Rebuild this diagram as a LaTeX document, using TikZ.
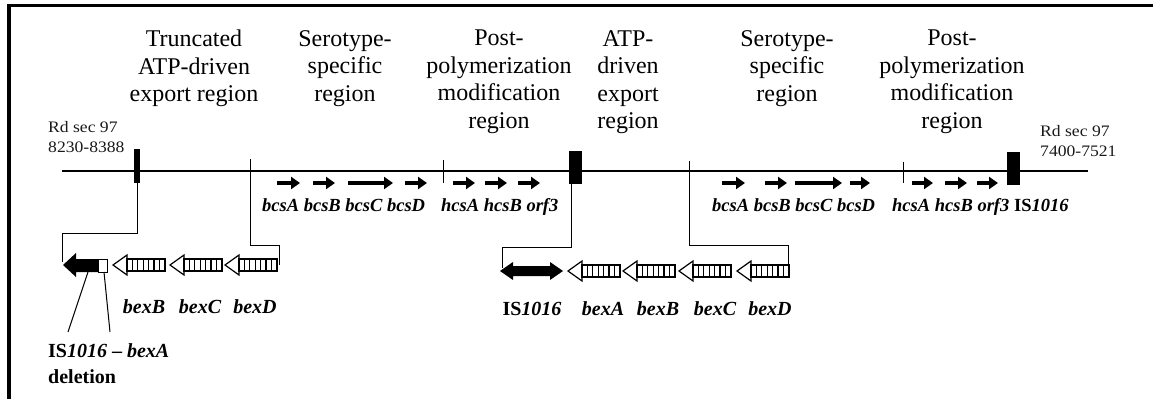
\documentclass[tikz,border=0pt]{standalone}
\usepackage{fontspec}
\setmainfont{Liberation Serif}
\newfontfamily\rdfont[FakeStretch=1.1]{Liberation Serif}
\usetikzlibrary{arrows.meta}
\newcommand\hatcharr[2]{%
  \draw[line width=1.2pt,fill=white] (#1,#2) -- ++(14,-10) -- ++(0,20) -- cycle;
  \draw[line width=1.2pt] (#1+14,#2-6) rectangle (#1+52,#2+6);
  \foreach \k in {1,...,6} \draw[line width=1.1pt] (#1+14+\k*5.4,#2-6) -- ++(0,12);
}
\begin{document}
\begin{tikzpicture}[x=1pt,y=-1pt,
  hdr/.style={align=center,font=\fontsize{24}{27.5}\selectfont,inner sep=0,anchor=north},
  rd/.style={align=left,font=\rdfont\fontsize{16}{20.5}\selectfont,inner sep=0,anchor=north west,text=black!90},
  gene/.style={font=\fontsize{18.5}{22}\selectfont\bfseries\itshape,inner sep=0,anchor=base west},
  bgene/.style={font=\fontsize{20}{26}\selectfont\bfseries\itshape,inner sep=0,anchor=base},
  blk/.style={fill=black,draw=none,inner sep=0},
  ln/.style={line width=1.3pt},
  thin/.style={line width=1pt},
  sa/.style={-{Triangle[length=9pt,width=12pt]},line width=3.4pt},
]
\useasboundingbox (0,0) rectangle (1153,399);
% frame
\draw[line width=3.5pt] (9,5.5) -- (1153,5.5);
\draw[line width=3.5pt] (9,4) -- (9,399);

% headers
\node[hdr] (h1) at (194,30) {Truncated\\ATP-driven\\export region};
\node[hdr] (h2) at (345,30) {Serotype-\\specific\\region};
\node[hdr] (h3) at (499,30) {Post-\\polymerization\\modification\\region};
\node[hdr] (h4) at (628,30) {ATP-\\driven\\export\\region};
\node[hdr] (h5) at (787,30) {Serotype-\\specific\\region};
\node[hdr] (h6) at (952,30) {Post-\\polymerization\\modification\\region};

% Rd labels
\node[rd] (rdl) at (48,121) {Rd sec 97\\8230-8388};
\node[rd] (rdr) at (1040,125) {Rd sec 97\\7400-7521};

% main line
\draw[ln] (62,171) -- (1088,171);

% boxes
\node[blk,minimum width=6pt,minimum height=34pt] (lbox) at (137,166) {};
\node[blk,minimum width=13pt,minimum height=33pt] (mbox) at (575.5,167.5) {};
\node[blk,minimum width=13pt,minimum height=33pt] (rbox) at (1013.5,168.5) {};

% ticks
\coordinate (t1) at (250,159);
\coordinate (t2) at (443,160);
\coordinate (t3) at (689,161);
\coordinate (t4) at (903,162);
\draw[thin] (t2) -- ++(0,23);
\draw[thin] (t4) -- ++(0,21);

% small arrows, first group
\draw[sa] (277,183) -- (300,183);
\draw[sa] (313,183) -- (335,183);
\draw[sa] (348,183) -- (393,183);
\draw[sa] (405,183) -- (427,183);
\draw[sa] (453,183) -- (475,183);
\draw[sa] (485,183) -- (507,183);
\draw[sa] (518,183) -- (540,183);
% second group
\draw[sa] (722,183) -- (745,183);
\draw[sa] (765,183) -- (787,183);
\draw[sa] (795,183) -- (842,183);
\draw[sa] (850,183) -- (870,183);
\draw[sa] (912,183) -- (933,183);
\draw[sa] (945,183) -- (967,183);
\draw[sa] (977,183) -- (998,183);

% gene labels top
\node[gene] (g1) at (262,211) {bcsA bcsB bcsC bcsD};
\node[gene] (g2) at (441,211) {hcsA hcsB orf3};
\node[gene] (g3) at (712,211) {bcsA bcsB bcsC bcsD};
\node[gene] (g4) at (892,211) {hcsA hcsB orf3};
\node[gene] (g5) at (1014,211) {{\upshape IS}1016};

% left deletion group
\fill (63,265) -- (76,253) -- (76,259) -- (98,259) -- (98,272) -- (76,272) -- (76,277) -- cycle;
\draw[thin] (98,259) rectangle (107,272);
\hatcharr{113}{265}
\hatcharr{170}{265}
\hatcharr{225}{265}

% middle group
\fill (500,271) -- (513,262) -- (513,266) -- (550,266) -- (550,262) -- (563,271) -- (550,280) -- (550,276) -- (513,276) -- (513,280) -- cycle;
\hatcharr{568}{271}
\hatcharr{623}{271}
\hatcharr{679}{271}
\hatcharr{737}{271}

% brackets
\coordinate (lend) at (62,262);
\coordinate (l2end) at (279,265);
\coordinate (mend) at (502,268);
\coordinate (m2end) at (788,277);
\draw[thin] (lbox.south) -- (137,233) -| (lend);
\draw[thin] (t1) -- (250,245) -| (l2end);
\draw[thin] (571,184) -- (571,247) -| (mend);
\draw[thin] (t3) -- (689,245) -| (m2end);

% bottom labels
\node[bgene] (b1) at (144,313) {bexB};
\node[bgene] (b2) at (200,313) {bexC};
\node[bgene] (b3) at (255,313) {bexD};
\node[bgene] (c0) at (532,315) {{\upshape IS}1016};
\node[bgene] (c1) at (603,315) {bexA};
\node[bgene] (c2) at (658,315) {bexB};
\node[bgene] (c3) at (715,315) {bexC};
\node[bgene] (c4) at (770,315) {bexD};

\node[bgene,anchor=base west] (del1) at (48,357) {{\upshape IS}1016 {\upshape --} bexA};
\node[bgene,anchor=base west] (del2) at (48,383) {\upshape deletion};
\coordinate (p1) at (88,272);
\coordinate (p2) at (104,272);
\draw[thin] (p1) -- (68,332);
\draw[thin] (p2) -- (110,332);
\end{tikzpicture}
\end{document}
